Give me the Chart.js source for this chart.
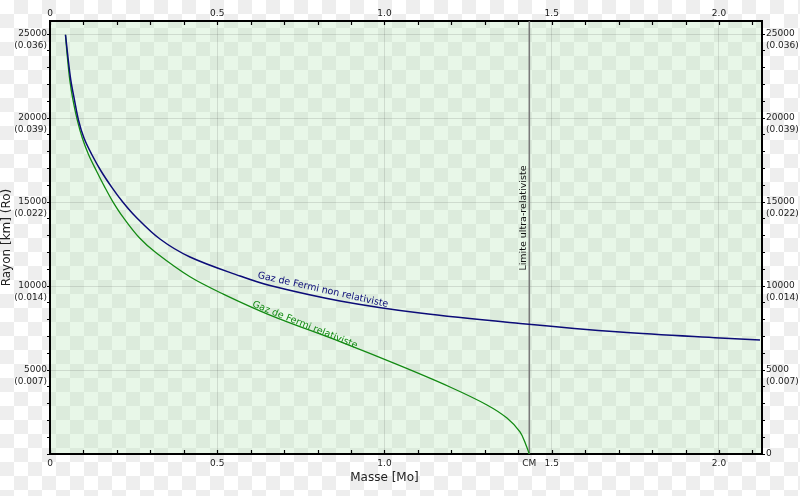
<!DOCTYPE html>
<html>
<head>
<meta charset="utf-8">
<script src="https://cdn.jsdelivr.net/npm/chart.js@4.4.1/dist/chart.umd.min.js"></script>
<style>
html,body{margin:0;padding:0;}
body{
  width:800px;height:496px;overflow:hidden;
  background-color:#ffffff;
  background-image:
    linear-gradient(45deg,#eeeeee 25%,transparent 25%,transparent 75%,#eeeeee 75%),
    linear-gradient(45deg,#eeeeee 25%,transparent 25%,transparent 75%,#eeeeee 75%);
  background-size:28px 28px;
  background-position:0 0,14px 14px;
}
canvas{display:block;}
</style>
</head>
<body>
<canvas id="c" width="800" height="496"></canvas>
<script>
// ---- data ----
const massNonRel   = [0.0463, 0.0523, 0.0622, 0.0732, 0.0852, 0.1016, 0.1241, 0.1525, 0.1854, 0.2152, 0.2541, 0.3288, 0.4185, 0.568, 0.6577, 0.867, 1.1061, 1.4051, 1.704, 2.003, 2.1226];
const radiusNonRel = [24960, 23870, 22260, 21070, 19880, 18810, 17860, 16850, 15860, 15060, 14170, 12800, 11730, 10600, 10030, 9110, 8390, 7770, 7260, 6905, 6786];

const massRel   = [0.0463, 0.0508, 0.0592, 0.0688, 0.0816, 0.0966, 0.1151, 0.139, 0.1629, 0.1868, 0.2167, 0.2679, 0.319, 0.4185, 0.5181, 0.6577, 0.867, 1.0463, 1.1958, 1.3064, 1.3662, 1.4051, 1.423, 1.4329];
const radiusRel = [24960, 23870, 22260, 21070, 19880, 18810, 17830, 16850, 15920, 15060, 14150, 12860, 11950, 10550, 9520, 8270, 6690, 5260, 3990, 2920, 2140, 1310, 540, 0];

const chandraMass = 1.433;          // limite ultra-relativiste (CM)
const limitLineRadius = [0, 25780];

const xMin = 0, xMax = 2.1286, xMinorStep = 0.1, xMajorStep = 0.5;
const yMin = 0, yMax = 25780, yMinorStep = 1000, yMajorStep = 5000;

const yTickValues = [0, 5000, 10000, 15000, 20000, 25000];
const yTickLabels = ['0', '5000', '10000', '15000', '20000', '25000'];
const yTickSubLabels = ['', '(0.007)', '(0.014)', '(0.022)', '(0.039)', '(0.036)'];

const labelNonRel = 'Gaz de Fermi non relativiste';
const labelRel = 'Gaz de Fermi relativiste';
const labelLimit = 'Limite ultra-relativiste';
const labelCM = 'CM';
const xTitle = 'Masse [Mo]';
const yTitle = 'Rayon [km] (Ro)';

const colNonRel = '#0c0c78';
const colRel = '#138a13';
const FONT = "'DejaVu Sans', sans-serif";

const toXY = (xs, ys) => xs.map((x, i) => ({x: x, y: ys[i]}));

function isMult(v, step){ const r = v / step; return Math.abs(r - Math.round(r)) < 1e-6; }

function xTicksList(withCM){
  const t = [];
  const n = Math.floor((xMax - xMin) / xMinorStep + 1e-9);
  for (let i = 0; i <= n; i++) t.push({value: +(xMin + i * xMinorStep).toFixed(4)});
  if (withCM) { t.push({value: chandraMass}); t.sort((a, b) => a.value - b.value); }
  return t;
}
function yTicksList(){
  const t = [];
  for (let v = yMin; v <= yMax; v += yMinorStep) t.push({value: v});
  return t;
}
function yLabel(v, side){
  const i = yTickValues.indexOf(v);
  if (i < 0) return '';
  if (v === 0) return side === 'left' ? '' : ['', '0', ''];
  return ['', yTickLabels[i], yTickSubLabels[i]];
}
function xLabel(v, withCM){
  if (withCM && Math.abs(v - chandraMass) < 1e-6) return labelCM;
  if (!isMult(v, xMajorStep)) return '';
  return v === 0 ? '0' : v.toFixed(1);
}

const faint = 'rgba(0,0,0,0.11)';

const decorPlugin = {
  id: 'decor',
  beforeDraw(chart){
    const {ctx, chartArea: a} = chart;
    ctx.save();
    ctx.fillStyle = 'rgba(185,230,185,0.32)';
    ctx.fillRect(a.left, a.top, a.right - a.left, a.bottom - a.top);
    ctx.restore();
  },
  afterDraw(chart){
    const {ctx, chartArea: a, scales} = chart;
    const sx = scales.x, sy = scales.y;
    ctx.save();
    // inward ticks on top and bottom axes
    ctx.strokeStyle = '#000'; ctx.lineWidth = 1.2;
    xTicksList(false).forEach(t => {
      const px = Math.round(sx.getPixelForValue(t.value)) + 0.5;
      ctx.beginPath(); ctx.moveTo(px, a.bottom); ctx.lineTo(px, a.bottom - 4); ctx.stroke();
      ctx.beginPath(); ctx.moveTo(px, a.top); ctx.lineTo(px, a.top + 4); ctx.stroke();
    });
    // x title
    ctx.fillStyle = '#222';
    ctx.font = '12px ' + FONT;
    ctx.textAlign = 'center'; ctx.textBaseline = 'middle';
    ctx.fillText(xTitle, sx.getPixelForValue(1.0), a.bottom + 24);
    // curve labels
    function rotText(txt, mx, ry, ang, col, dx, dy){
      ctx.save();
      ctx.translate(sx.getPixelForValue(mx) + (dx||0), sy.getPixelForValue(ry) + (dy||0));
      ctx.rotate(ang * Math.PI / 180);
      ctx.fillStyle = col;
      ctx.font = '9.5px ' + FONT;
      ctx.textAlign = 'center'; ctx.textBaseline = 'middle';
      ctx.fillText(txt, 0, 0);
      ctx.restore();
    }
    rotText(labelNonRel, 0.816, 9761, 12.7, colNonRel);
    rotText(labelRel, 0.762, 7678, 22, colRel);
    rotText(labelLimit, chandraMass, 14047, -90, '#111', -6, 0);
    ctx.restore();
  }
};

const fixSize = (w, h) => (scale) => { if (w != null) scale.width = w; if (h != null) scale.height = h; };

new Chart(document.getElementById('c'), {
  type: 'scatter',
  data: {
    datasets: [
      {
        label: labelNonRel,
        data: toXY(massNonRel, radiusNonRel),
        showLine: true, borderColor: colNonRel, borderWidth: 1.5,
        pointRadius: 0, tension: 0.35, fill: false
      },
      {
        label: labelRel,
        data: toXY(massRel, radiusRel),
        showLine: true, borderColor: colRel, borderWidth: 1.3,
        pointRadius: 0, tension: 0.35, fill: false
      },
      {
        label: labelLimit,
        data: toXY([chandraMass, chandraMass], limitLineRadius),
        showLine: true, borderColor: '#7a7a7a', borderWidth: 1.6,
        pointRadius: 0, fill: false
      }
    ]
  },
  options: {
    responsive: false,
    animation: false,
    events: [],
    layout: {padding: 0},
    plugins: {legend: {display: false}, tooltip: {enabled: false}},
    scales: {
      x: {
        type: 'linear', position: 'bottom', min: xMin, max: xMax,
        afterBuildTicks: s => { s.ticks = xTicksList(true); },
        afterFit: fixSize(null, 42),
        ticks: {
          autoSkip: false, maxRotation: 0, padding: 4,
          font: {family: FONT, size: 9}, color: '#222',
          callback: v => xLabel(v, true)
        },
        grid: {
          drawTicks: false,
          color: c => (c.tick && isMult(c.tick.value, xMajorStep) && c.tick.value > 0) ? faint : 'rgba(0,0,0,0)',
          lineWidth: 1
        },
        border: {color: '#000', width: 2}
      },
      x2: {
        type: 'linear', position: 'top', min: xMin, max: xMax,
        afterBuildTicks: s => { s.ticks = xTicksList(false); },
        afterFit: fixSize(null, 21),
        ticks: {
          autoSkip: false, maxRotation: 0, padding: 2,
          font: {family: FONT, size: 9}, color: '#222',
          callback: v => xLabel(v, false)
        },
        grid: {drawTicks: false, drawOnChartArea: false},
        border: {color: '#000', width: 2}
      },
      y: {
        type: 'linear', position: 'left', min: yMin, max: yMax,
        afterBuildTicks: s => { s.ticks = yTicksList(); },
        afterFit: fixSize(50, null),
        title: {display: true, text: yTitle, font: {family: FONT, size: 12}, color: '#222', padding: {top: 0, bottom: 0}},
        ticks: {
          autoSkip: false, padding: 0,
          font: {family: FONT, size: 9, lineHeight: 1.25}, color: '#222',
          callback: v => yLabel(v, 'left')
        },
        grid: {
          drawTicks: true, tickLength: 3, tickColor: '#000', tickWidth: 1.2,
          color: c => (c.tick && isMult(c.tick.value, yMajorStep) && c.tick.value > 0) ? faint : 'rgba(0,0,0,0)'
        },
        border: {color: '#000', width: 2}
      },
      y2: {
        type: 'linear', position: 'right', min: yMin, max: yMax,
        afterBuildTicks: s => { s.ticks = yTicksList(); },
        afterFit: fixSize(38, null),
        ticks: {
          autoSkip: false, padding: 1,
          font: {family: FONT, size: 9, lineHeight: 1.25}, color: '#222',
          callback: v => yLabel(v, 'right')
        },
        grid: {drawTicks: true, tickLength: 3, tickColor: '#000', tickWidth: 1.2, drawOnChartArea: false},
        border: {color: '#000', width: 2}
      }
    }
  },
  plugins: [decorPlugin]
});
</script>
</body>
</html>
